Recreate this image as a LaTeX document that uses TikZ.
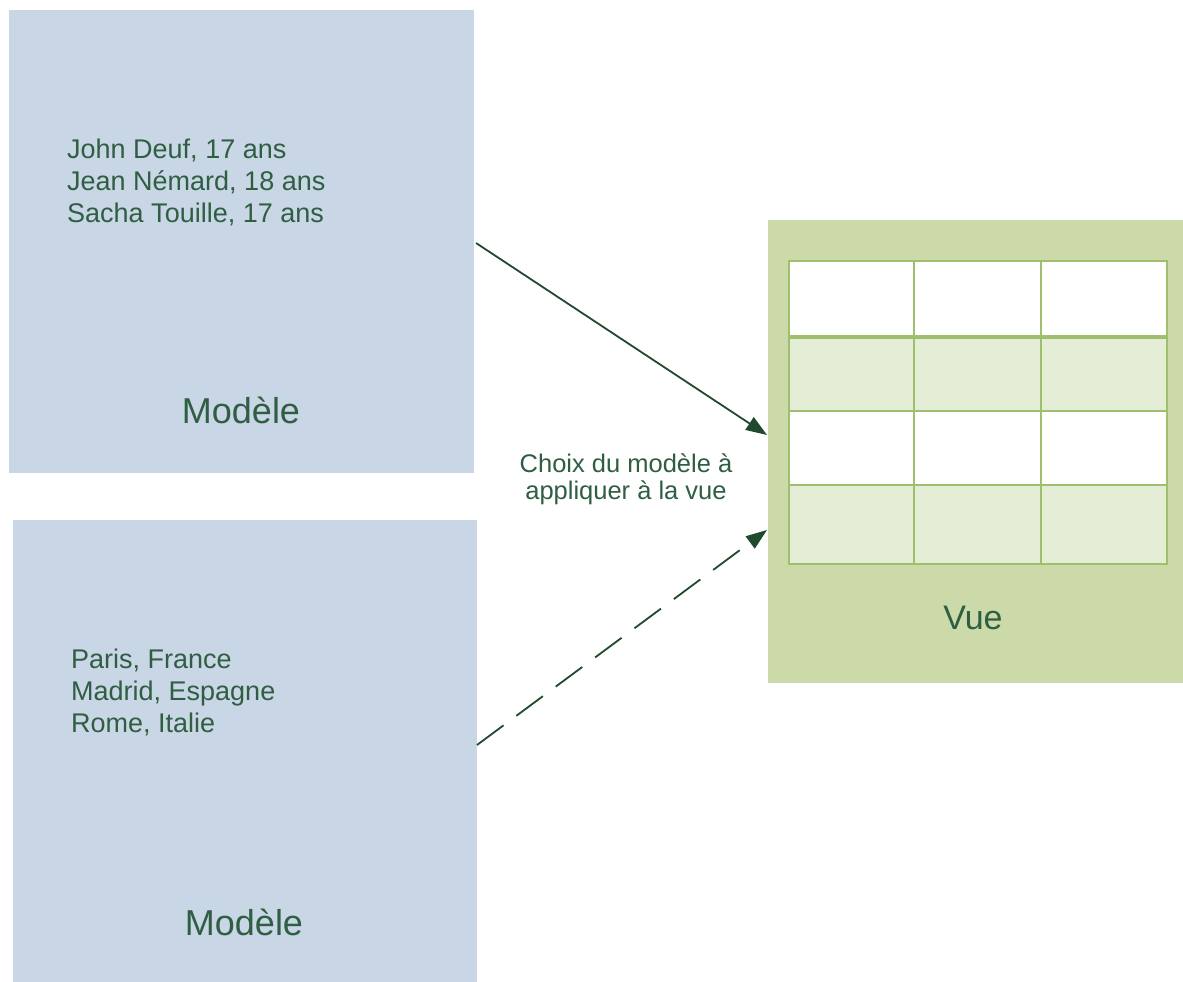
\documentclass[tikz,border=0pt]{standalone}
\usepackage{fontspec}
\setmainfont{Liberation Sans}
\usetikzlibrary{arrows.meta}
\definecolor{modelblue}{HTML}{C9D6E5}
\definecolor{vuegreen}{HTML}{CBDAA8}
\definecolor{rowgreen}{HTML}{E4EDD5}
\definecolor{gridgreen}{HTML}{9EBF6B}
\definecolor{txtgreen}{HTML}{2F5E43}
\definecolor{arrgreen}{HTML}{1F4A2E}
\tikzset{
  panel/.style={draw=none, rectangle, anchor=north west, inner sep=0pt},
  smalltxt/.style={inner sep=0pt, text=txtgreen, align=left, font=\fontsize{27}{32}\selectfont},
  bigtxt/.style={inner sep=0pt, text=txtgreen, anchor=base, font=\fontsize{36}{40}\selectfont},
  conn/.style={draw=arrgreen, line width=1.8pt, -{Triangle[length=21pt,width=15pt]}},
  gridline/.style={draw=gridgreen, line width=1.5pt}
}
\begin{document}
\begin{tikzpicture}[x=1pt,y=-1pt]
\useasboundingbox (0,0) rectangle (1183,982);
\fill[white] (0,0) rectangle (1183,982);
% panels
\node[panel, fill=modelblue, minimum width=465pt, minimum height=463pt] (m1) at (9,10) {};
\node[panel, fill=modelblue, minimum width=464pt, minimum height=462pt] (m2) at (13,520) {};
\node[panel, fill=vuegreen, minimum width=415pt, minimum height=463pt] (vue) at (768,220) {};
% table
\fill[rowgreen] (789,337) rectangle (1167,411);
\fill[rowgreen] (789,485) rectangle (1167,564);
\fill[white] (789,261) rectangle (1167,337);
\fill[white] (789,411) rectangle (1167,485);
\draw[gridline] (789,261) rectangle (1167,564);
\draw[gridline] (914,261) -- (914,564);
\draw[gridline] (1041,261) -- (1041,564);
\draw[gridline, line width=4pt] (789,337) -- (1167,337);
\draw[gridline] (789,411) -- (1167,411);
\draw[gridline] (789,485) -- (1167,485);
% texts
\node[smalltxt, anchor=north west] (t1) at (67,139) {John Deuf, 17 ans\\Jean Némard, 18 ans\\Sacha Touille, 17 ans};
\node[bigtxt] (l1) at (241,423) {Modèle};
\node[smalltxt, anchor=north west] (t2) at (71,649) {Paris, France\\Madrid, Espagne\\Rome, Italie};
\node[bigtxt] (l2) at (244,935) {Modèle};
\node[bigtxt, font=\fontsize{34}{40}\selectfont] (l3) at (973,629) {Vue};
\node[inner sep=0pt, text=txtgreen, align=center, anchor=north, font=\fontsize{25.5}{26.5}\selectfont] (lab) at (626,454) {Choix du modèle à\\appliquer à la vue};
% connectors
\coordinate (s1) at (476,243);
\coordinate (e1) at (767,435);
\coordinate (s2) at (477,745);
\coordinate (e2) at (767,530);
\draw[conn] (s1) -- (e1);
\draw[conn, dash pattern=on 33pt off 16pt] (s2) -- (e2);
\end{tikzpicture}
\end{document}
